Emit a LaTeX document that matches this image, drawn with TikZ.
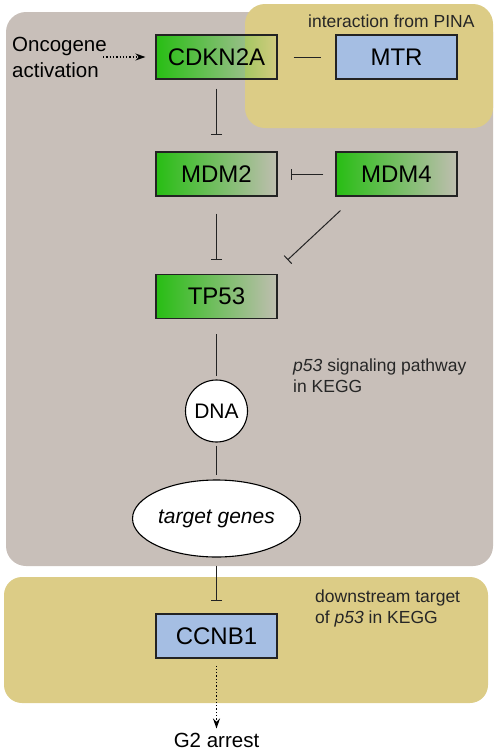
\documentclass[tikz,border=0pt]{standalone}
\usepackage{fontspec}
\setmainfont{Liberation Sans}
\usetikzlibrary{shapes.geometric, arrows.meta, positioning, calc, fadings}
\definecolor{region_gray}{RGB}{200, 191, 185}
\definecolor{pina_yellow}{RGB}{220, 204, 134}
\definecolor{gene_green}{RGB}{40, 190, 20}
\definecolor{target_blue}{RGB}{165, 190, 227}
\definecolor{edge_gray}{RGB}{35, 35, 35}
\tikzfading[name=genefade, left color=transparent!0, right color=transparent!95]
\def \PF {\textit{p53}}

\begin{document}
\begin{tikzpicture}[
    x=1pt, y=-1pt,
    % Node styles
    gene/.style={
        rectangle,
        draw=edge_gray,
        line width=1.1pt,
        minimum width=121pt,
        minimum height=44pt,
        path picture={\fill[gene_green, path fading=genefade] (path picture bounding box.south west) rectangle (path picture bounding box.north east);},
        font = \fontsize{24}{28}\selectfont
    },
    partner/.style={
        rectangle,
        draw=edge_gray,
        fill=target_blue,
        line width=1.1pt,
        minimum width=121pt,
        minimum height=44pt,
        font = \fontsize{24}{28}\selectfont
    },
    blob/.style={
        #1,
        draw=black,
        fill=white,
        line width=1.1pt,
        inner sep=1pt,
        font = \fontsize{21}{25}\selectfont
    },
    note/.style={
        anchor=base west,
        align=left,
        inner sep=0pt,
        text=black!85,
        font = \fontsize{17.5}{21}\selectfont
    },
    link/.style={
        line width=1pt,
        edge_gray
    },
    inhibit/.style={
        -{Bar[width=11pt]},
        line width=1pt,
        edge_gray
    },
    dotted_arrow/.style={
        -{Stealth[length=10pt, width=7pt]},
        dotted,
        line width=1.3pt
    }
]
\useasboundingbox (0,0) rectangle (498,753);

% Background regions
\fill[region_gray, rounded corners=20pt] (6,12) rectangle (493,566);
\fill[pina_yellow, rounded corners=20pt] (245,4) rectangle (493,128);
\fill[pina_yellow, rounded corners=18pt] (4,577) rectangle (488,703);

% Position nodes
\node[gene] (cdkn2a) at (216.5,57) {CDKN2A};
\node[partner] (mtr) at (396.5,57) {MTR};
\node[gene] (mdm2) at (216.5,174) {MDM2};
\node[gene] (mdm4) at (396.5,174) {MDM4};
\node[gene] (tp53) at (216.5,296.5) {TP53};
\node[blob=circle, minimum size=62pt] (dna) at (216.5,411) {DNA};
\node[blob=ellipse, minimum width=145pt, minimum height=77pt, font=\fontsize{21}{25}\selectfont\itshape] (genes) at (216.5,518.5) {target genes};
\node[partner] (ccnb1) at (216.5,636) {CCNB1};
\node[inner sep=0pt, anchor=base, font=\fontsize{20.5}{25}\selectfont] (arrest) at (216.5,747) {G2 arrest};
\node[inner sep=0pt, anchor=west, align=left, font=\fontsize{20.5}{26}\selectfont] (onco) at (12,57) {Oncogene\\activation};

% Notes (base = last line)
\node[note] (pina) at (308,27) {interaction from PINA};
\node[note] (kegg) at (293,392) {\PF{} signaling pathway\\in KEGG};
\node[note] (downstream) at (315,623) {downstream target\\of \PF{} in KEGG};

% Connectors
\draw[dotted_arrow, shorten <=-4pt, shorten >=10pt] (onco.east) -- (cdkn2a.west);
\draw[link, shorten <=16pt, shorten >=14pt] (cdkn2a.east) -- (mtr.west);
\draw[inhibit, shorten <=9pt, shorten >=16pt] (cdkn2a.south) -- (mdm2.north);
\draw[inhibit, shorten <=12pt, shorten >=13pt] (mdm4.west) -- (mdm2.east);
\draw[inhibit, shorten <=17pt, shorten >=14pt] (mdm2.south) -- (tp53.north);
\draw[inhibit] ($(mdm4.south west)+(5,14)$) -- ($(tp53.north east)+(10,-14)$);
\draw[link, shorten <=15pt, shorten >=3pt] (tp53.south) -- (dna.north);
\draw[link, shorten <=3pt, shorten >=4pt] (dna.south) -- (genes.north);
\draw[inhibit, shorten <=8pt, shorten >=12pt] (genes.south) -- (ccnb1.north);
\draw[dotted_arrow, shorten <=7pt, shorten >=4pt] (ccnb1.south) -- (arrest.north);

\end{tikzpicture}
\end{document}
